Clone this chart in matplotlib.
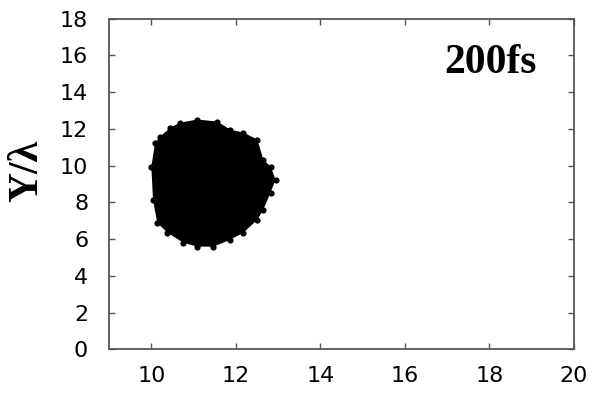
import matplotlib
matplotlib.use("Agg")
import matplotlib.pyplot as plt

# outline of the particle cloud at t = 200 fs (X/lambda, Y/lambda)
blob_x = [10.00, 10.09, 10.21, 10.45, 10.68, 11.09, 11.56, 11.87, 12.18, 12.51,
          12.65, 12.82, 12.94, 12.82, 12.65, 12.51, 12.18, 11.87, 11.47, 11.09,
          10.76, 10.38, 10.14, 10.04]
blob_y = [9.95, 11.25, 11.58, 12.07, 12.34, 12.51, 12.40, 11.96, 11.80, 11.42,
          10.33, 9.95, 9.24, 8.53, 7.60, 7.06, 6.35, 5.97, 5.59, 5.59,
          5.80, 6.35, 6.89, 8.15]

x_ticks = [10, 12, 14, 16, 18, 20]
y_ticks = [0, 2, 4, 6, 8, 10, 12, 14, 16, 18]
time_label = "200fs"

fig = plt.figure(figsize=(5.96, 3.97), dpi=100)
ax = fig.add_axes([0.183, 0.12, 0.78, 0.833])

ax.fill(blob_x, blob_y, color="black", lw=0, zorder=2)
ax.scatter(blob_x, blob_y, s=20, color="black", lw=0, zorder=3)

ax.set_xlim(9, 20)
ax.set_ylim(0, 18)
ax.set_xticks(x_ticks)
ax.set_yticks(y_ticks)
ax.tick_params(direction="in", length=4, width=1.0, color="#555555",
               top=True, right=True, labelsize=16)
ax.tick_params(axis="y", pad=15)
ax.tick_params(axis="x", pad=12)
for lab in ax.get_xticklabels() + ax.get_yticklabels():
    lab.set_family("DejaVu Sans")
for sp in ax.spines.values():
    sp.set_color("#555555")
    sp.set_linewidth(1.3)

ax.set_ylabel("Y/λ", family="Liberation Serif", fontweight="bold",
              fontsize=30)
ax.yaxis.set_label_coords(-0.135, 0.54)
ax.text(0.82, 0.866, time_label, transform=ax.transAxes, ha="center",
        va="center", family="Liberation Serif", fontweight="bold", fontsize=30)

fig.savefig("out.png", dpi=100)
